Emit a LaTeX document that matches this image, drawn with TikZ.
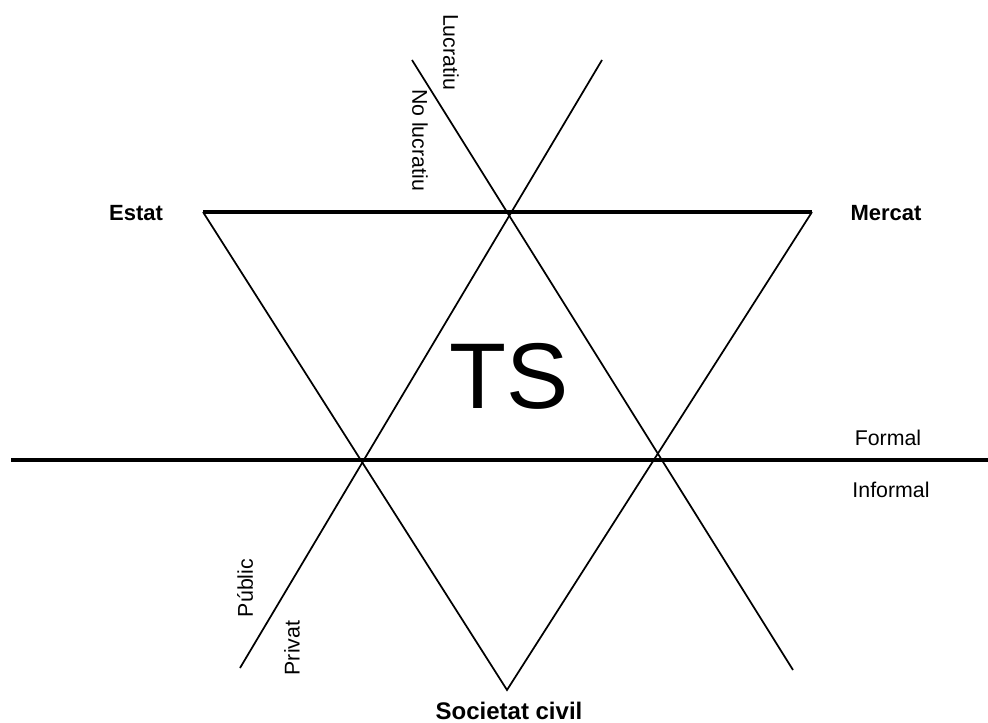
\documentclass[tikz,border=0pt]{standalone}
\usepackage{fontspec}
\setmainfont{Liberation Sans}
\usetikzlibrary{positioning}

\begin{document}
\begin{tikzpicture}[
  x=0.75pt,y=-0.75pt,
  edge/.style={line width=1.3pt},
  axis/.style={line width=2.4pt},
  pole/.style={font=\fontsize{16.5}{19}\selectfont\bfseries,inner sep=0pt},
  side/.style={font=\fontsize{16}{19}\selectfont,inner sep=0pt},
  sector/.style={font=\fontsize{70}{80}\selectfont,inner sep=0pt}]
\useasboundingbox (0,0) rectangle (988,723);
% triangle corners
\coordinate (estat)  at (203,212);
\coordinate (mercat) at (812,212);
\coordinate (civil)  at (507,690);
% crossing lines
\coordinate (lucA)  at (412,60);
\coordinate (lucB)  at (793,670);
\coordinate (pubA)  at (602,60);
\coordinate (pubB)  at (240,668);
\coordinate (formA) at (11,460);
\coordinate (formB) at (988,460);
\draw[edge] (estat) -- (civil) -- (mercat);
\draw[axis] (estat) -- (mercat);
\draw[edge] (lucA) -- (lucB);
\draw[edge] (pubA) -- (pubB);
\draw[axis] (formA) -- (formB);
% poles
\node[pole] (lEstat)  at (136,213) {Estat};
\node[pole] (lMercat) at (886,213) {Mercat};
\node[pole,font=\fontsize{18}{21}\selectfont\bfseries] (lCivil) at (509,711) {Societat civil};
\node[sector,anchor=base] (lTS) at (509,408) {TS};
% divisions
\node[side,rotate=-90] (lLuc)   at (451,52)  {Lucratiu};
\node[side,rotate=-90] (lNoLuc) at (420,140) {No lucratiu};
\node[side,rotate=90]  (lPub)   at (245,588) {Públic};
\node[side,rotate=90]  (lPriv)  at (292,648) {Privat};
\node[side] (lForm)   at (888,438) {Formal};
\node[side] (lInform) at (891,490) {Informal};
\end{tikzpicture}
\end{document}
